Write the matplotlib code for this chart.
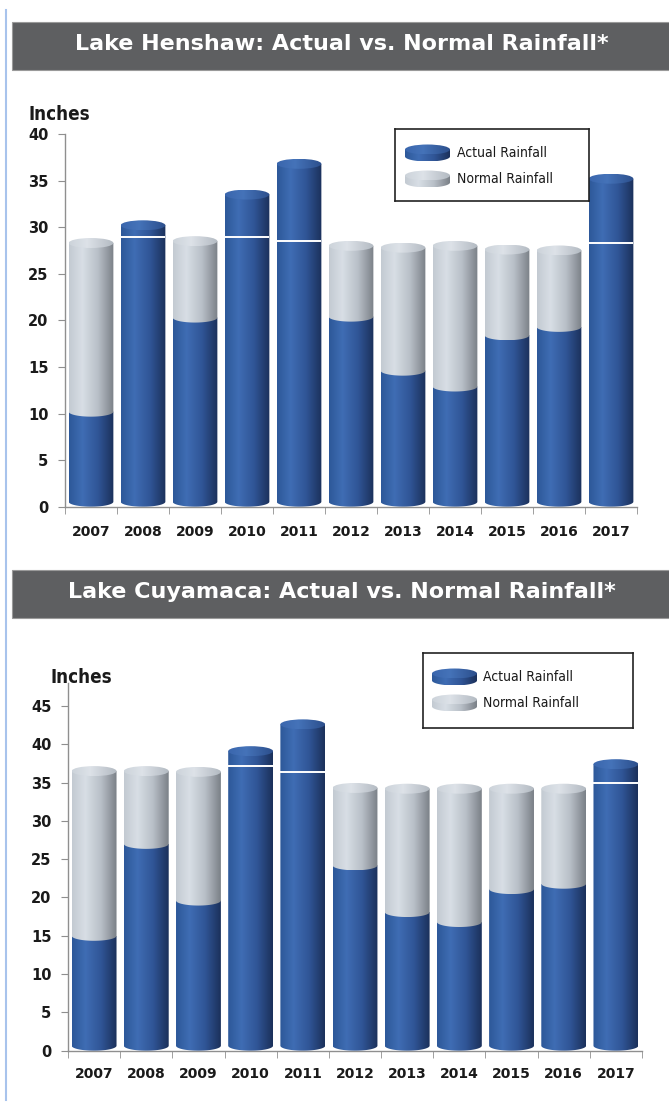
import numpy as np
import matplotlib
matplotlib.use('Agg')
import matplotlib.pyplot as plt
from matplotlib.colors import LinearSegmentedColormap
from matplotlib.patches import PathPatch, Ellipse, Rectangle
from matplotlib.path import Path
from matplotlib.lines import Line2D

years = ['2007', '2008', '2009', '2010', '2011', '2012', '2013', '2014', '2015', '2016', '2017']
henshaw_actual = [10.2, 30.2, 20.3, 33.5, 36.8, 20.4, 14.6, 12.9, 18.4, 19.3, 35.2]
henshaw_normal = [28.3, 28.9, 28.5, 28.9, 28.5, 28.0, 27.8, 28.0, 27.6, 27.5, 28.3]
cuyamaca_actual = [15.0, 27.0, 19.6, 39.1, 42.6, 24.2, 18.1, 16.8, 21.1, 21.8, 37.4]
cuyamaca_normal = [36.5, 36.5, 36.4, 37.2, 36.4, 34.3, 34.2, 34.2, 34.2, 34.2, 35.0]
legend_labels = ['Actual Rainfall', 'Normal Rainfall']

blue = LinearSegmentedColormap.from_list('b', [(0, '#2d5899'), (0.3, '#3f6db4'), (0.65, '#305596'), (1, '#1b305a')])
blue_cap = LinearSegmentedColormap.from_list('bc', [(0, '#3a66ad'), (0.4, '#4573b9'), (1, '#2c4f8c')])
gray = LinearSegmentedColormap.from_list('g', [(0, '#c3cad2'), (0.3, '#d8dee5'), (0.65, '#b8bfc7'), (1, '#7a8087')])
gray_cap = LinearSegmentedColormap.from_list('gc', [(0, '#ccd3da'), (0.4, '#dde2e8'), (1, '#b3bac2')])
grad = np.linspace(0, 1, 256).reshape(1, -1)

NARROW = dict(family='DejaVu Sans', stretch='condensed')


def body(ax, xc, y0, y1, w, eh, cmap, z):
    t = np.linspace(np.pi, 2 * np.pi, 50)
    verts = [(xc - w / 2, y1)] + list(zip(xc + w / 2 * np.cos(t), y0 + eh / 2 * np.sin(t))) + [(xc + w / 2, y1), (xc - w / 2, y1)]
    p = PathPatch(Path(verts), transform=ax.transData, facecolor='none', edgecolor='none')
    im = ax.imshow(grad, cmap=cmap, extent=[xc - w / 2, xc + w / 2, y0 - eh / 2, y1], aspect='auto',
                   interpolation='bicubic', zorder=z)
    im.set_clip_path(p)


def cap(ax, xc, y, w, eh, cmap, z):
    e = Ellipse((xc, y), w, eh, transform=ax.transData, facecolor='none', edgecolor='none')
    im = ax.imshow(grad, cmap=cmap, extent=[xc - w / 2, xc + w / 2, y - eh / 2, y + eh / 2], aspect='auto',
                   interpolation='bicubic', zorder=z)
    im.set_clip_path(e)


def panel(rect, actual, normal, ymax, yticks, inches_xy, label_pad):
    ax = fig.add_axes(rect)
    ax.set_xlim(-0.5, len(years) - 0.5)
    ax.set_ylim(0, ymax)
    px_per_unit = rect[3] * fig.get_figheight() * fig.dpi / ymax
    eh = 10 / px_per_unit
    w = 0.86
    for i, (a, n) in enumerate(zip(actual, normal)):
        body(ax, i, eh / 2, a, w, eh, blue, 2)
        if n > a:
            body(ax, i, a, n, w, eh, gray, 3)
            cap(ax, i, n, w, eh, gray_cap, 4)
        else:
            cap(ax, i, a, w, eh, blue_cap, 4)
            ax.plot([i - w / 2, i + w / 2], [n, n], color='white', lw=1.4, zorder=5, solid_capstyle='butt')
    ax.set_xlim(-0.5, len(years) - 0.5)
    ax.set_ylim(0, ymax)
    for s in ['top', 'right']:
        ax.spines[s].set_visible(False)
    for s in ['left', 'bottom']:
        ax.spines[s].set_color('#8f8f8f')
        ax.spines[s].set_linewidth(1.0)
    ax.set_yticks(yticks)
    ax.set_yticklabels([str(v) for v in yticks], fontsize=10.5, fontweight='bold', color='#1a1a1a')
    ax.tick_params(axis='y', length=5, color='#8f8f8f', pad=7)
    ax.set_xticks(range(len(years)))
    ax.set_xticklabels(years, fontsize=10, fontweight='bold', color='#1a1a1a')
    ax.tick_params(axis='x', which='major', length=0, pad=label_pad)
    ax.set_xticks(np.arange(-0.5, len(years)), minor=True)
    ax.tick_params(axis='x', which='minor', length=5, color='#8f8f8f')
    fig.text(inches_xy[0] / W, 1 - inches_xy[1] / H, 'Inches', fontsize=13.5,
             fontweight='bold', color='#1a1a1a', va='baseline', **NARROW)
    return ax


def title_bar(y_top, y_bot, text):
    fig.patches.append(Rectangle((12 / W, 1 - y_bot / H), 1, (y_bot - y_top) / H, transform=fig.transFigure,
                                 facecolor='#5e5f61', edgecolor='#9a9a9a', lw=0.8))
    fig.text(342 / W, 1 - (y_bot - 20) / H, text, ha='center', va='baseline', color='white',
             fontsize=16, fontweight='bold', family='DejaVu Sans')


def legend_box(x0, y0, x1, y1, icon_x, icon_w, rows, text_x):
    lax = fig.add_axes([x0 / W, 1 - y1 / H, (x1 - x0) / W, (y1 - y0) / H])
    lax.set_xticks([])
    lax.set_yticks([])
    for s in lax.spines.values():
        s.set_color('#222222')
        s.set_linewidth(1.2)
    for (yc, cm, cc, lab) in zip(rows, [blue, gray], [blue_cap, gray_cap], legend_labels):
        xc = icon_x + icon_w / 2
        # flat disc in pixel units, y axis runs downward
        t = np.linspace(0, np.pi, 40)
        th = 7
        eh = 10
        verts = [(xc - icon_w / 2, yc - th / 2)] + list(zip(xc - icon_w / 2 * np.cos(t), yc + th / 2 + eh / 2 * np.sin(t))) + [(xc + icon_w / 2, yc - th / 2), (xc - icon_w / 2, yc - th / 2)]
        p = PathPatch(Path(verts), transform=lax.transData, facecolor='none', edgecolor='none')
        im = lax.imshow(grad, cmap=cm, extent=[xc - icon_w / 2, xc + icon_w / 2, yc + th / 2 + eh / 2, yc - th / 2],
                        aspect='auto', interpolation='bicubic', zorder=2)
        im.set_clip_path(p)
        e = Ellipse((xc, yc - th / 2), icon_w, eh, transform=lax.transData, facecolor='none', edgecolor='none')
        im2 = lax.imshow(grad, cmap=cc, extent=[xc - icon_w / 2, xc + icon_w / 2, yc - th / 2 + eh / 2, yc - th / 2 - eh / 2],
                         aspect='auto', interpolation='bicubic', zorder=3)
        im2.set_clip_path(e)
        lax.text(text_x, yc, lab, fontsize=10, color='#1a1a1a', va='center', ha='left', **NARROW)
    lax.set_xlim(0, x1 - x0)
    lax.set_ylim(y1 - y0, 0)
    return lax


W, H = 669, 1111
fig = plt.figure(figsize=(W / 100, H / 100), dpi=100)
fig.patch.set_facecolor('white')

fig.lines.append(Line2D([6.5 / W, 6.5 / W], [1 - 10 / H, 1 - 1100 / H], transform=fig.transFigure,
                        color='#a8c3ec', lw=1.5))

title_bar(22, 70, 'Lake Henshaw: Actual vs. Normal Rainfall*')
title_bar(570, 618, 'Lake Cuyamaca: Actual vs. Normal Rainfall*')

panel([65 / W, 1 - 506.7 / H, 572 / W, 372.7 / H], henshaw_actual, henshaw_normal, 40,
      list(range(0, 41, 5)), (29, 120), 13)
panel([68 / W, 1 - 1050.7 / H, 574 / W, 367.7 / H], cuyamaca_actual, cuyamaca_normal, 48,
      list(range(0, 46, 5)), (50, 683), 12)

legend_box(395, 129, 589, 201, 10, 45, [24, 50], 62)
legend_box(423, 653, 633, 728, 9, 45, [24, 50], 60)

fig.savefig('out.png', dpi=100)
